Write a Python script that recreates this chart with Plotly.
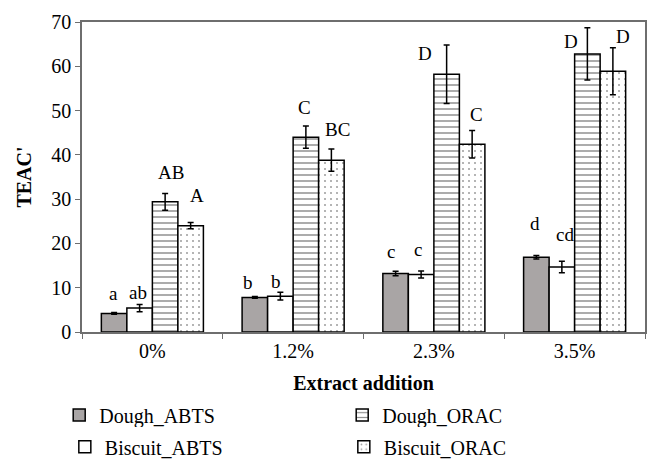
import plotly.graph_objects as go

categories = ["0%", "1.2%", "2.3%", "3.5%"]

dough_abts = [4.2, 7.8, 13.2, 16.9]
dough_abts_err = [0.2, 0.2, 0.5, 0.4]
biscuit_abts = [5.4, 8.1, 13.0, 14.7]
biscuit_abts_err = [0.8, 0.9, 0.8, 1.3]
dough_orac = [29.4, 44.0, 58.2, 62.8]
dough_orac_err = [1.9, 2.5, 6.6, 5.9]
biscuit_orac = [24.0, 38.8, 42.4, 58.9]
biscuit_orac_err = [0.7, 2.5, 3.1, 5.3]

labels_dough_abts = ["a", "b", "c", "d"]
labels_biscuit_abts = ["ab", "b", "c", "cd"]
labels_dough_orac = ["AB", "C", "D", "D"]
labels_biscuit_orac = ["A", "BC", "C", "D"]

FONT = "Liberation Serif"

series = [
    dict(name="Dough_ABTS", y=dough_abts, e=dough_abts_err, lab=labels_dough_abts,
         color="#a9a5a5", pattern=None, legend="legend", rank=1),
    dict(name="Biscuit_ABTS", y=biscuit_abts, e=biscuit_abts_err, lab=labels_biscuit_abts,
         color="white", pattern=None, legend="legend2", rank=3),
    dict(name="Dough_ORAC", y=dough_orac, e=dough_orac_err, lab=labels_dough_orac,
         color="white", pattern=dict(shape="-", size=6, solidity=0.25, fgcolor="#222222"),
         legend="legend", rank=2),
    dict(name="Biscuit_ORAC", y=biscuit_orac, e=biscuit_orac_err, lab=labels_biscuit_orac,
         color="white", pattern=dict(shape=".", size=6, solidity=0.1, fgcolor="#444444"),
         legend="legend2", rank=4),
]

# label offsets in pixels (dx relative to bar centre, dy above error-bar top), per series/category
label_dx = [[-1, -7, -5, -1], [-2, -4, -3, 3], [6, -1, -22, -16], [6, 6, 4, 10]]
label_dy = [[19, 14, 20, 32], [12, 11, 21, 27], [21, 19, -8, -14], [27, 20, 16, 11]]

fig = go.Figure()
for s in series:
    marker = dict(color=s["color"], line=dict(color="black", width=1.5))
    if s["pattern"]:
        marker["pattern"] = dict(s["pattern"], bgcolor="white", fillmode="overlay")
    fig.add_trace(go.Bar(
        x=categories, y=s["y"], name=s["name"], marker=marker,
        error_y=dict(type="data", array=s["e"], color="black", thickness=1.5, width=3),
        legend=s["legend"], legendrank=s["rank"],
    ))

# page body has an 8px margin, so the figure is drawn slightly smaller and offset
L, R, T, B = 74, 15, 14, 139
W, H = 652, 463
plot_w = W - L - R
cat_w = plot_w / len(categories)
bargap = 0.275
bar_w = cat_w * (1 - bargap) / 4
offsets = [(-1.5 + i) * bar_w for i in range(4)]

annotations = []
for si, s in enumerate(series):
    for ci, c in enumerate(categories):
        annotations.append(dict(
            x=c, y=s["y"][ci] + s["e"][ci], xref="x", yref="y",
            text=s["lab"][ci], showarrow=False,
            xshift=offsets[si] + label_dx[si][ci], yshift=label_dy[si][ci],
            yanchor="middle", xanchor="center",
            font=dict(family=FONT, size=19, color="black"),
        ))

fig.update_layout(
    width=W, height=H,
    margin=dict(l=L, r=R, t=T, b=B, autoexpand=False),
    paper_bgcolor="white", plot_bgcolor="white",
    font=dict(family=FONT, size=20, color="black"),
    barmode="group", bargap=bargap, bargroupgap=0,
    annotations=annotations,
    legend=dict(orientation="h", x=-0.0405, y=-0.268, xanchor="left", yanchor="middle",
                entrywidth=238, entrywidthmode="pixels", font=dict(family=FONT, size=20),
                traceorder="normal", itemwidth=30),
    legend2=dict(orientation="h", x=-0.0305, y=-0.3705, xanchor="left", yanchor="middle",
                 entrywidth=234, entrywidthmode="pixels", font=dict(family=FONT, size=20),
                 traceorder="normal", itemwidth=30),
    xaxis=dict(
        showline=True, linecolor="#6e6e6e", linewidth=1.5, mirror=True,
        ticks="outside", tickson="boundaries", ticklen=5, tickcolor="#6e6e6e",
        tickfont=dict(family=FONT, size=20, color="black"), automargin=False,
        title=dict(text="<b>Extract addition</b>", font=dict(family=FONT, size=20), standoff=15),
        showgrid=False,
    ),
    yaxis=dict(
        range=[0, 70], dtick=10, showline=True, linecolor="#6e6e6e", linewidth=1.5, mirror=True,
        ticks="outside", ticklen=5, tickcolor="#6e6e6e", automargin=False,
        tickfont=dict(family=FONT, size=20, color="black"),
        title=dict(text="<b>TEAC'</b>", font=dict(family=FONT, size=20), standoff=14),
        showgrid=False, zeroline=False,
    ),
)

fig.write_html("out.html")
